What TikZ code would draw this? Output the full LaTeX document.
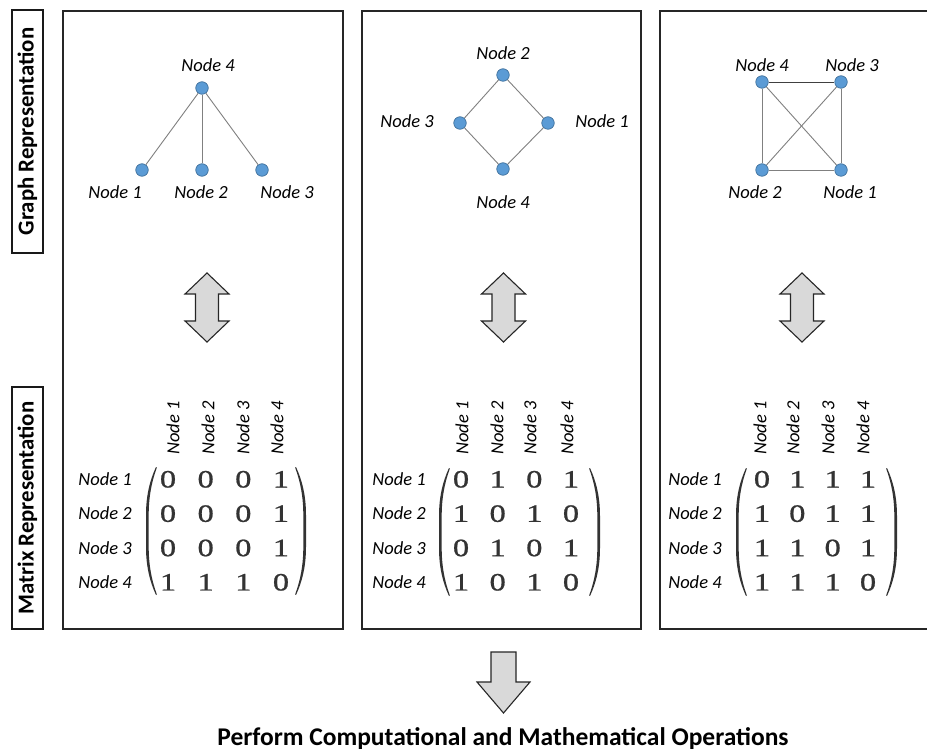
\documentclass[tikz,border=0pt]{standalone}
\usepackage{fontspec}
\setmainfont{Carlito}
\newfontfamily\tms[FakeStretch=1.3,FakeBold=0.8]{Liberation Serif}
\usetikzlibrary{matrix,calc}
\definecolor{dotblue}{HTML}{5B9BD5}
\definecolor{dotedge}{HTML}{41719C}
\definecolor{edgegray}{HTML}{808080}
\definecolor{arrowgray}{HTML}{D9D9D9}
\tikzset{
 lbl/.style={font=\itshape\fontsize{18.5}{20}\selectfont, inner sep=0pt},
 dot/.style={circle, fill=dotblue, draw=dotedge, line width=0.7pt, minimum size=12.5pt, inner sep=0pt},
 link/.style={draw=edgegray, line width=0.9pt},
 num/.style={font=\tms\fontsize{25}{25}\selectfont, text=black!80, inner sep=0pt, text height=17pt, text depth=0pt, minimum width=16.25pt},
 panel/.style={draw=black!85, line width=1.3pt},
 sidebox/.style={draw=black!90, line width=1.3pt, rotate=90, font=\bfseries\fontsize{22.8}{24}\selectfont, minimum height=31pt, inner sep=0pt},
 adj/.style={matrix of nodes, nodes={num}, row sep=17.33pt, inner sep=3pt},
 parenfill/.style={fill=black!80},
 bigarrow/.style={fill=arrowgray, draw=black!85, line width=1.1pt, line join=miter},
 updown/.pic={\draw[bigarrow] (0,-34.5) -- (22,-13.5) -- (11.5,-13.5) -- (11.5,13.5) -- (22,13.5) -- (0,34.5) -- (-22,13.5) -- (-11.5,13.5) -- (-11.5,-13.5) -- (-22,-13.5) -- cycle;},
 lparen/.pic={\fill[parenfill] (5,-64) .. controls (-1,-51) and (-5,-36) .. (-5,-16) -- (-5,16) .. controls (-5,36) and (-1,51) .. (5,64) -- (5.8,63.3) .. controls (0.6,49) and (-2.3,34) .. (-2.3,16) -- (-2.3,-16) .. controls (-2.3,-34) and (0.6,-49) .. (5.8,-63.3) -- cycle;},
 rparen/.pic={\fill[parenfill] (-5,-64) .. controls (1,-51) and (5,-36) .. (5,-16) -- (5,16) .. controls (5,36) and (1,51) .. (-5,64) -- (-5.8,63.3) .. controls (-0.6,49) and (2.3,34) .. (2.3,16) -- (2.3,-16) .. controls (2.3,-34) and (-0.6,-49) .. (-5.8,-63.3) -- cycle;}
}
\begin{document}
\begin{tikzpicture}[x=1pt,y=-1pt]
\useasboundingbox (0,0) rectangle (927,751);
\fill[white] (0,0) rectangle (927,751);

% side labels
\node[sidebox, minimum width=243pt] (graphrep) at (27.5,131.5) {Graph Representation};
\node[sidebox, minimum width=242pt] (matrixrep) at (27.5,508) {Matrix Representation};

% panels
\draw[panel] (63,11) rectangle (343,629);
\draw[panel] (362,11) rectangle (641,629);
\draw[panel] (927,11) -- (660,11) -- (660,629) -- (927,629);

% panel 1 graph
\node[dot] (a4) at (202,88) {};
\node[dot] (a1) at (142,170) {};
\node[dot] (a2) at (202,170) {};
\node[dot] (a3) at (262,170) {};
\draw[link] (a4) -- (a1);
\draw[link] (a4) -- (a2);
\draw[link] (a4) -- (a3);
\node[lbl] (a4l) at (208,65) {Node 4};
\node[lbl] (a1l) at (115,192) {Node 1};
\node[lbl] (a2l) at (201,192) {Node 2};
\node[lbl] (a3l) at (287,192) {Node 3};

% panel 2 graph
\node[dot] (b2) at (503,75) {};
\node[dot] (b3) at (460,123) {};
\node[dot] (b1) at (548,123) {};
\node[dot] (b4) at (503,169) {};
\draw[link] (b2) -- (b3);
\draw[link] (b2) -- (b1);
\draw[link] (b3) -- (b4);
\draw[link] (b1) -- (b4);
\node[lbl] (b2l) at (503,53) {Node 2};
\node[lbl] (b3l) at (407,121) {Node 3};
\node[lbl] (b1l) at (602,121) {Node 1};
\node[lbl] (b4l) at (503,202) {Node 4};

% panel 3 graph
\node[dot] (c4) at (762,82) {};
\node[dot] (c3) at (841,82) {};
\node[dot] (c2) at (762,170) {};
\node[dot] (c1) at (841,170) {};
\draw[link, draw=black!75] (c4) -- (c3);
\draw[link] (c4) -- (c2);
\draw[link] (c4) -- (c1);
\draw[link] (c3) -- (c2);
\draw[link] (c3) -- (c1);
\draw[link] (c2) -- (c1);
\node[lbl] (c4l) at (762,65) {Node 4};
\node[lbl] (c3l) at (852,65) {Node 3};
\node[lbl] (c2l) at (755,192) {Node 2};
\node[lbl] (c1l) at (850,192) {Node 1};

% double arrows
\pic at (207,307.5) {updown};
\pic at (503.5,307.5) {updown};
\pic at (802,307.5) {updown};

% matrices
\matrix[adj, column sep=21.4pt] (m1) at (224.5,530.5) {
0 & 0 & 0 & 1\\
0 & 0 & 0 & 1\\
0 & 0 & 0 & 1\\
1 & 1 & 1 & 0\\
};
\pic at (151,531) {lparen};
\pic at (301,531) {rparen};
\foreach \r in {1,...,4} \node[lbl] (m1r\r) at ($(m1-\r-1)+(-63,0)$) {Node \r};
\foreach \c/\x in {1/173,2/208,3/243,4/277} \node[lbl, rotate=90, anchor=west] (m1c\c) at (\x,455) {Node \c};

\matrix[adj, column sep=20.4pt] (m2) at (516,530.5) {
0 & 1 & 0 & 1\\
1 & 0 & 1 & 0\\
0 & 1 & 0 & 1\\
1 & 0 & 1 & 0\\
};
\pic at (444,532) {lparen};
\pic at (595,532) {rparen};
\foreach \r in {1,...,4} \node[lbl] (m2r\r) at ($(m2-\r-1)+(-62,0)$) {Node \r};
\foreach \c/\x in {1/462,2/497,3/530,4/567} \node[lbl, rotate=90, anchor=west] (m2c\c) at (\x,455) {Node \c};

\matrix[adj, column sep=19.1pt] (m3) at (815,530.5) {
0 & 1 & 1 & 1\\
1 & 0 & 1 & 1\\
1 & 1 & 0 & 1\\
1 & 1 & 1 & 0\\
};
\pic at (741,532) {lparen};
\pic at (892,532) {rparen};
\foreach \r in {1,...,4} \node[lbl] (m3r\r) at ($(m3-\r-1)+(-67,0)$) {Node \r};
\foreach \c/\x in {1/760,2/793,3/828,4/863} \node[lbl, rotate=90, anchor=west] (m3c\c) at (\x,455) {Node \c};

% bottom arrow and caption
\draw[bigarrow] (491,652) -- (516,652) -- (516,682) -- (530,682) -- (503.5,713) -- (477,682) -- (491,682) -- cycle;
\node[font=\bfseries\fontsize{25.5}{27}\selectfont, inner sep=0pt] (ops) at (503,739) {Perform Computational and Mathematical Operations};
\end{tikzpicture}
\end{document}
